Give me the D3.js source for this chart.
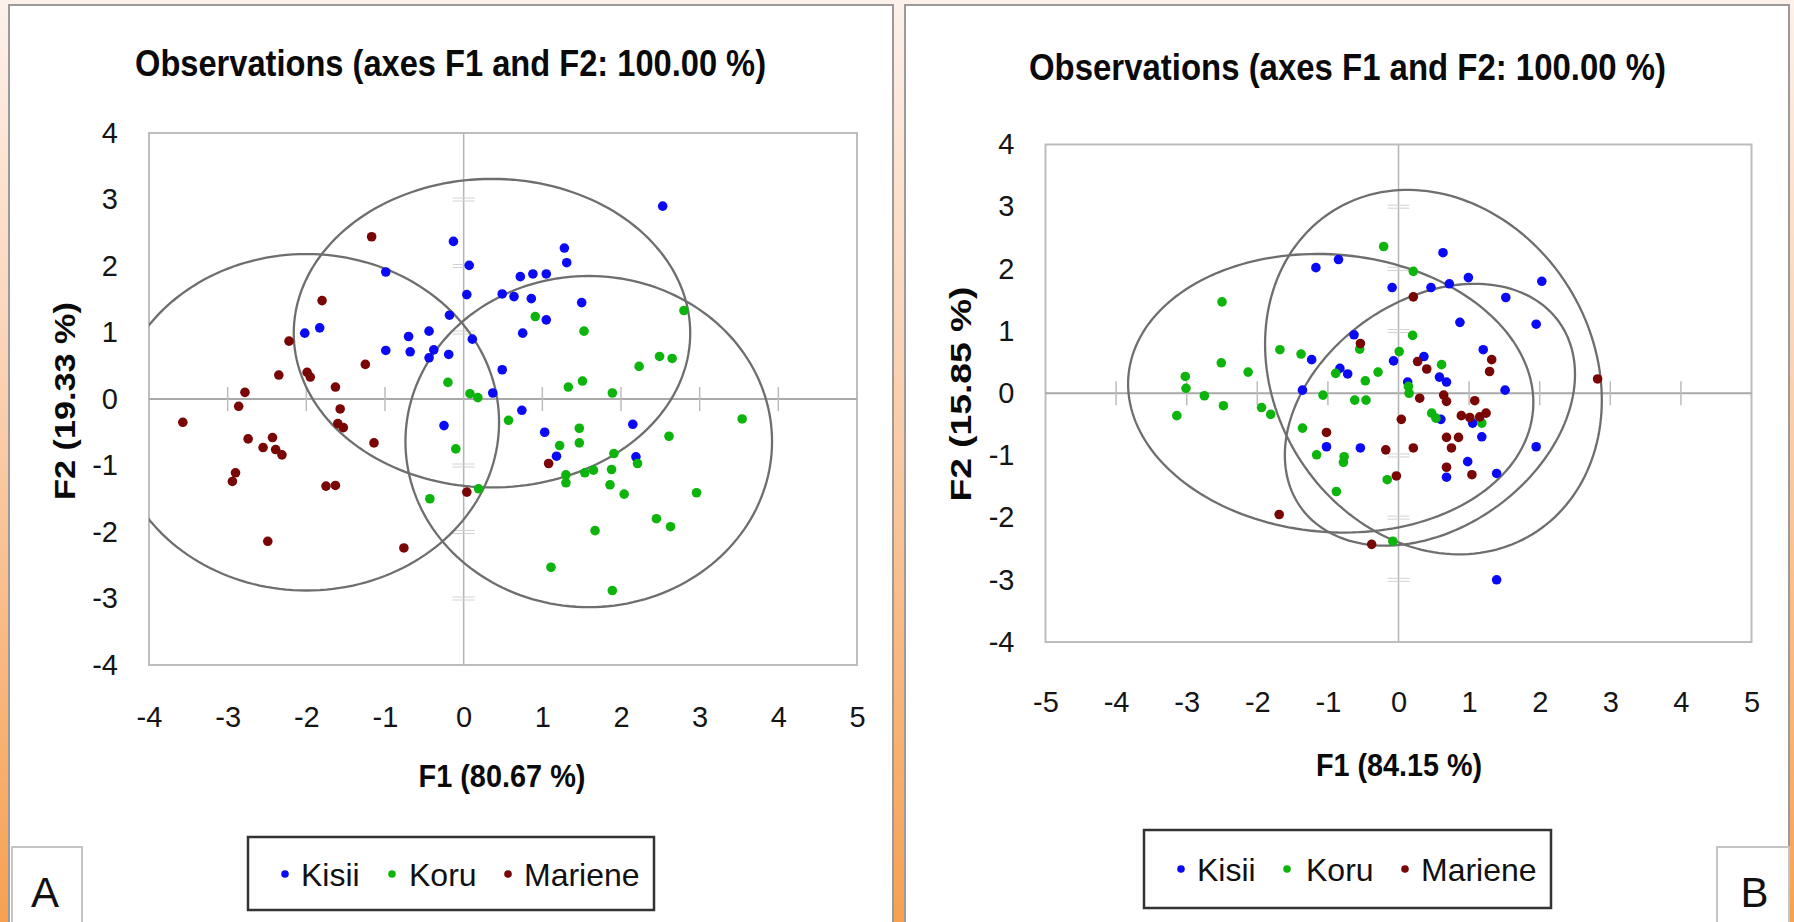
<!DOCTYPE html>
<html><head><meta charset="utf-8">
<script src="https://cdn.jsdelivr.net/npm/d3@7"></script>
<style>html,body{margin:0;padding:0;background:#fff;overflow:hidden}</style>
</head><body>
<svg id="c" width="1794" height="922"></svg>
<script>
// ---------------- data ----------------
const seriesNames = ["Kisii", "Koru", "Mariene"];
const titleText = "Observations (axes F1 and F2: 100.00 %)";
const aXTicks = [-4, -3, -2, -1, 0, 1, 2, 3, 4, 5];
const aYTicks = [-4, -3, -2, -1, 0, 1, 2, 3, 4];
const bXTicks = [-5, -4, -3, -2, -1, 0, 1, 2, 3, 4, 5];
const bYTicks = [-4, -3, -2, -1, 0, 1, 2, 3, 4];
const aXLabel = "F1 (80.67 %)";
const aYLabel = "F2 (19.33 %)";
const bXLabel = "F1 (84.15 %)";
const bYLabel = "F2 (15.85 %)";

// Panel A observations [F1, F2]
const aKisii = [
  [-0.13, 2.37], [0.07, 2.01], [-0.99, 1.91], [0.04, 1.57], [-0.18, 1.26], [-1.83, 1.07],
  [-2.02, 0.99], [0.11, 0.90], [-0.70, 0.94], [-0.44, 1.02], [-0.99, 0.73], [-0.68, 0.71],
  [-0.38, 0.74], [-0.44, 0.62], [-0.19, 0.67], [0.37, 0.09], [-0.25, -0.40],
  [2.53, 2.90], [1.28, 2.27], [1.31, 2.05], [0.72, 1.84], [0.88, 1.88], [1.05, 1.88],
  [0.49, 1.58], [0.64, 1.54], [0.86, 1.51], [1.50, 1.45], [1.05, 1.19], [0.75, 0.99],
  [0.49, 0.44], [0.74, -0.17], [1.03, -0.50], [2.15, -0.38], [1.18, -0.86], [2.19, -0.87]
];
const aKoru = [
  [-0.20, 0.25], [0.08, 0.08], [0.18, 0.02], [-0.10, -0.75], [0.19, -1.35], [-0.43, -1.50],
  [2.80, 1.33], [0.91, 1.24], [1.53, 1.02], [2.23, 0.49], [2.49, 0.64], [2.65, 0.61],
  [1.33, 0.18], [1.51, 0.27], [1.89, 0.09], [3.54, -0.30], [0.57, -0.32], [1.47, -0.44],
  [1.47, -0.66], [2.61, -0.56], [1.22, -0.70], [1.91, -0.82], [2.21, -0.97], [1.30, -1.14],
  [1.30, -1.26], [1.54, -1.11], [1.65, -1.07], [1.88, -1.06], [1.86, -1.29], [2.04, -1.43],
  [2.96, -1.41], [2.45, -1.80], [2.63, -1.92], [1.67, -1.98], [1.11, -2.53], [1.89, -2.88]
];
const aMariene = [
  [-1.17, 2.44], [-1.80, 1.48], [-2.22, 0.87], [-2.35, 0.36], [-1.99, 0.40], [-1.95, 0.33],
  [-1.25, 0.52], [-1.63, 0.18], [-2.78, 0.10], [-2.86, -0.11], [-3.57, -0.35], [-1.57, -0.15],
  [-1.60, -0.37], [-1.53, -0.43], [-1.14, -0.66], [-2.74, -0.60], [-2.43, -0.58], [-2.55, -0.73],
  [-2.39, -0.76], [-2.31, -0.84], [-2.90, -1.11], [-2.94, -1.24], [-1.75, -1.31], [-1.63, -1.30],
  [-2.49, -2.14], [-0.76, -2.24], [0.04, -1.40], [1.08, -0.97]
];

// Panel B observations [F1, F2]
const bKisii = [
  [-1.17, 2.02], [-0.85, 2.15], [-0.09, 1.70], [0.46, 1.70], [-0.63, 0.94], [-1.23, 0.54],
  [-0.83, 0.40], [-0.72, 0.31], [-1.36, 0.05], [-0.07, 0.52], [0.36, 0.59], [0.13, 0.18],
  [-1.02, -0.86], [-0.54, -0.88],
  [0.63, 2.26], [0.72, 1.76], [0.99, 1.86], [2.03, 1.80], [1.52, 1.54], [0.87, 1.14],
  [1.95, 1.11], [1.20, 0.70], [0.58, 0.26], [0.68, 0.18], [1.51, 0.05], [0.60, -0.42],
  [1.05, -0.48], [1.18, -0.70], [1.95, -0.86], [0.98, -1.10], [0.68, -1.35], [1.39, -1.29],
  [1.39, -3.00]
];
const bKoru = [
  [-0.21, 2.36], [0.21, 1.96], [-2.50, 1.47], [0.20, 0.93], [-1.68, 0.70], [-1.38, 0.63],
  [-2.51, 0.49], [-2.13, 0.34], [-3.02, 0.27], [-3.01, 0.08], [-2.75, -0.04], [-2.48, -0.20],
  [-3.14, -0.36], [-1.94, -0.23], [-1.81, -0.34], [-1.07, -0.03], [-0.89, 0.32], [-0.47, 0.20],
  [-0.29, 0.34], [-0.55, 0.71], [0.01, 0.67], [-0.62, -0.11], [-0.46, -0.11], [-1.36, -0.56],
  [-1.16, -0.99], [-0.77, -1.02], [-0.78, -1.11], [-0.16, -1.39], [-0.88, -1.58], [-0.08, -2.38],
  [0.14, 0.11], [0.15, 0.00], [0.47, -0.32], [0.53, -0.40], [0.61, 0.46], [1.18, -0.48]
];
const bMariene = [
  [0.21, 1.55], [-0.54, 0.80], [0.27, 0.51], [0.40, 0.39], [0.30, -0.08], [0.04, -0.42],
  [-1.02, -0.63], [-0.18, -0.91], [0.21, -0.88], [-0.03, -1.33], [-1.69, -1.95], [-0.38, -2.43],
  [1.32, 0.54], [1.29, 0.35], [0.64, -0.03], [0.68, -0.13], [1.08, -0.12], [0.89, -0.36],
  [1.01, -0.39], [1.15, -0.38], [1.24, -0.32], [0.68, -0.71], [0.85, -0.71], [0.75, -0.88],
  [0.68, -1.19], [1.04, -1.31], [2.82, 0.23]
];

// Confidence ellipses: [centerF1, centerF2, halfWidthF1, halfHeightF2, F2 offset at F1 extreme]
const aEllipses = [
  [0.36, 0.99, 2.52, 2.32, 0],      // Kisii
  [1.59, -0.64, 2.33, 2.49, 0],     // Koru
  [-2.00, -0.35, 2.45, 2.53, 0]     // Mariene
];
const bEllipses = [
  [0.495, 0.34, 2.385, 2.93, -0.45], // Kisii
  [-0.96, 0.00, 2.87, 2.24, -0.15],  // Koru
  [0.445, -0.345, 2.055, 2.105, 0.65] // Mariene
];

// ---------------- drawing ----------------
const colors = ["#0a0af5", "#0cb40c", "#7a0505"];
const narrow = "'Liberation Sans Narrow', 'Liberation Sans', Arial, sans-serif";
const svg = d3.select("#c");
const defs = svg.append("defs");

const bg = defs.append("linearGradient").attr("id", "bg").attr("x1", 0).attr("y1", 0).attr("x2", 0).attr("y2", 1);
bg.append("stop").attr("offset", 0).attr("stop-color", "#fdf1ea");
bg.append("stop").attr("offset", 0.35).attr("stop-color", "#fbd6bb");
bg.append("stop").attr("offset", 1).attr("stop-color", "#f6a152");
svg.append("rect").attr("width", 1794).attr("height", 922).attr("fill", "url(#bg)");

const panels = [
  {
    px: 9, x0: 149, x1: 857, y0: 133, y1: 665, xdom: [-4, 5], xt: aXTicks, yt: aYTicks,
    series: [aKisii, aKoru, aMariene], ell: aEllipses,
    title: { x: 450.5, y: 76, len: 631 },
    xlab: { text: aXLabel, x: 502, y: 787, len: 167 },
    ylab: { text: aYLabel, x: 75, y: 401, len: 198 },
    xPad: 41,
    legend: { x: 248, y: 837, w: 406, h: 73, dots: [285, 392, 508], tx: [301, 409, 524], ty: 886, dy: 874 },
    tag: { x: 12, y: 847, w: 70, letter: "A", lx: 45 }
  },
  {
    px: 905, x0: 1045.5, x1: 1751.5, y0: 144.5, y1: 642, xdom: [-5, 5], xt: bXTicks, yt: bYTicks,
    series: [bKisii, bKoru, bMariene], ell: bEllipses,
    title: { x: 1347.5, y: 80, len: 637 },
    xlab: { text: bXLabel, x: 1399, y: 776, len: 166 },
    ylab: { text: bYLabel, x: 971, y: 394, len: 215 },
    xPad: 49,
    legend: { x: 1144, y: 830, w: 407, h: 78, dots: [1181, 1287, 1405], tx: [1197, 1306, 1421], ty: 881, dy: 869 },
    tag: { x: 1717, y: 847, w: 72, letter: "B", lx: 1754.5 }
  }
];

panels.forEach((P, pi) => {
  const g = svg.append("g");
  // panel background
  g.append("rect").attr("x", P.px).attr("y", 5).attr("width", 884).attr("height", 960)
    .attr("fill", "#fff").attr("stroke", "#9a9a9a").attr("stroke-width", 2);

  const x = d3.scaleLinear().domain(P.xdom).range([P.x0, P.x1]);
  const y = d3.scaleLinear().domain([-4, 4]).range([P.y1, P.y0]);

  // title
  g.append("text").attr("x", P.title.x).attr("y", P.title.y).attr("text-anchor", "middle")
    .attr("font-family", narrow).attr("font-weight", "bold").attr("font-size", 37)
    .attr("textLength", P.title.len).attr("lengthAdjust", "spacingAndGlyphs")
    .attr("fill", "#0a0a0a").text(titleText);

  // plot frame
  g.append("rect").attr("x", P.x0).attr("y", P.y0).attr("width", P.x1 - P.x0).attr("height", P.y1 - P.y0)
    .attr("fill", "none").attr("stroke", "#bdbdbd").attr("stroke-width", 2);

  // origin axes
  g.append("line").attr("x1", P.x0).attr("x2", P.x1).attr("y1", y(0)).attr("y2", y(0))
    .attr("stroke", "#a9a9a9").attr("stroke-width", 2);
  g.append("line").attr("x1", x(0)).attr("x2", x(0)).attr("y1", P.y0).attr("y2", P.y1)
    .attr("stroke", "#b4b4b4").attr("stroke-width", 1.5);

  // tick marks on origin axes
  const innerX = P.xt.filter(v => v !== 0 && v > P.xdom[0] && v < P.xdom[1]);
  g.selectAll(null).data(innerX).join("line")
    .attr("x1", d => x(d)).attr("x2", d => x(d)).attr("y1", y(0) - 12).attr("y2", y(0) + 12)
    .attr("stroke", "#bcbcbc").attr("stroke-width", 1.5);
  const innerY = P.yt.filter(v => v !== 0 && v > -4 && v < 4);
  [-1.5, 1.5].forEach(off => {
    g.selectAll(null).data(innerY).join("line")
      .attr("x1", x(0) - 11).attr("x2", x(0) + 11).attr("y1", d => y(d) + off).attr("y2", d => y(d) + off)
      .attr("stroke", "#d2d2d2").attr("stroke-width", 1);
  });

  // axes labels via d3 axes
  const fmt = d => String(d);
  const ax = g.append("g").attr("transform", `translate(0,${P.y1})`)
    .call(d3.axisBottom(x).tickValues(P.xt).tickSize(0).tickPadding(P.xPad).tickFormat(fmt));
  const ay = g.append("g").attr("transform", `translate(${P.x0},0)`)
    .call(d3.axisLeft(y).tickValues(P.yt).tickSize(0).tickPadding(31).tickFormat(fmt));
  [ax, ay].forEach(a => {
    a.select(".domain").remove();
    a.attr("font-family", narrow).attr("font-size", 29);
    a.selectAll("text").attr("fill", "#151515");
  });

  // axis titles
  g.append("text").attr("x", P.xlab.x).attr("y", P.xlab.y).attr("text-anchor", "middle")
    .attr("font-family", narrow).attr("font-weight", "bold").attr("font-size", 31)
    .attr("textLength", P.xlab.len).attr("lengthAdjust", "spacingAndGlyphs")
    .attr("fill", "#0a0a0a").text(P.xlab.text);
  g.append("text").attr("transform", `translate(${P.ylab.x},${P.ylab.y}) rotate(-90)`)
    .attr("text-anchor", "middle")
    .attr("font-family", "'Liberation Sans', Arial, sans-serif").attr("font-weight", "bold").attr("font-size", 29)
    .attr("textLength", P.ylab.len).attr("lengthAdjust", "spacingAndGlyphs")
    .attr("fill", "#0a0a0a").text(P.ylab.text);

  // clip
  const cid = "clip" + pi;
  defs.append("clipPath").attr("id", cid).append("rect")
    .attr("x", P.x0).attr("y", P.y0).attr("width", P.x1 - P.x0).attr("height", P.y1 - P.y0);
  const plot = g.append("g").attr("clip-path", `url(#${cid})`);

  // ellipses
  const line = d3.line().x(p => x(p[0])).y(p => y(p[1])).curve(d3.curveLinearClosed);
  P.ell.forEach(e => {
    const [cx, cy, wx, wy, k] = e;
    const dd = Math.sqrt(wy * wy - k * k);
    const pts = d3.range(0, 360, 2).map(a => {
      const t = a * Math.PI / 180;
      return [cx + wx * Math.cos(t), cy + k * Math.cos(t) + dd * Math.sin(t)];
    });
    plot.append("path").attr("d", line(pts)).attr("fill", "none")
      .attr("stroke", "#6e6e6e").attr("stroke-width", 2.3);
  });

  // points
  P.series.forEach((s, si) => {
    plot.selectAll(null).data(s).join("circle")
      .attr("cx", d => x(d[0])).attr("cy", d => y(d[1])).attr("r", 4.8)
      .attr("fill", colors[si]);
  });

  // legend
  const L = P.legend;
  g.append("rect").attr("x", L.x).attr("y", L.y).attr("width", L.w).attr("height", L.h)
    .attr("fill", "#fff").attr("stroke", "#333").attr("stroke-width", 2.5);
  seriesNames.forEach((n, i) => {
    g.append("circle").attr("cx", L.dots[i]).attr("cy", L.dy).attr("r", 3.8).attr("fill", colors[i]);
    g.append("text").attr("x", L.tx[i]).attr("y", L.ty).attr("font-family", narrow)
      .attr("font-size", 32).attr("fill", "#111").text(n);
  });

  // panel tag
  const T = P.tag;
  g.append("rect").attr("x", T.x).attr("y", T.y).attr("width", T.w).attr("height", 100)
    .attr("fill", "#fff").attr("stroke", "#c4c4c4").attr("stroke-width", 2);
  g.append("text").attr("x", T.lx).attr("y", 907).attr("text-anchor", "middle")
    .attr("font-family", "'Liberation Sans', Arial, sans-serif").attr("font-size", 42)
    .attr("fill", "#111").text(T.letter);
});
</script>
</body></html>
